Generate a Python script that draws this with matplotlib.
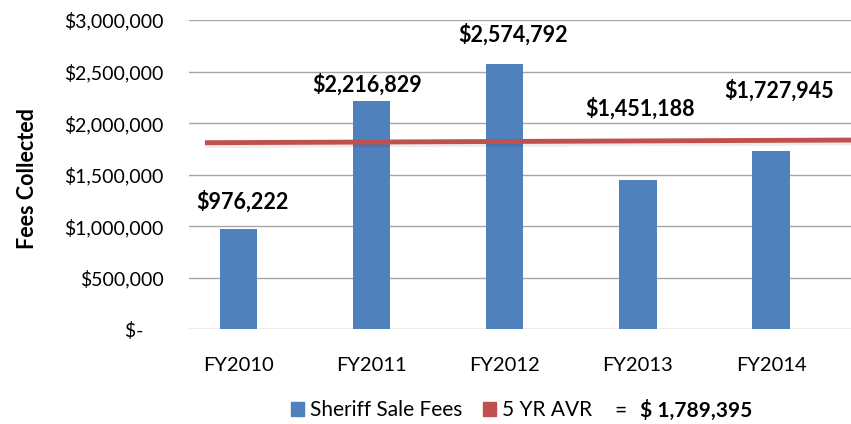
import matplotlib
matplotlib.use('Agg')
import matplotlib.pyplot as plt
import matplotlib.patheffects as pe
from matplotlib.patches import Patch
import numpy as np

years = ['FY2010', 'FY2011', 'FY2012', 'FY2013', 'FY2014']
fees = [976222, 2216829, 2574792, 1451188, 1727945]
avg_value = 1789395
avg_line_x = [-0.25, 4.65]
avg_line_y = [1810000, 1836000]

# where the data labels sit (hand-moved in the original)
label_x = [0.03, -0.03, 0.06, 0.02, 0.06]
label_y = [1235000, 2370000, 2855000, 2146000, 2311000]

blue = '#4F81BD'
red = '#C0504D'
font = 'Lato'

fig = plt.figure(figsize=(8.51, 4.24), dpi=100)
ax = fig.add_axes([0.222, 0.2233, 0.778, 0.7295])

x = np.arange(len(years))
ax.bar(x, fees, width=0.28, color=blue, zorder=2)

ax.plot(avg_line_x, avg_line_y, color=red, lw=3.5, zorder=3, solid_capstyle='butt',
        path_effects=[pe.SimpleLineShadow(offset=(0.5, -1.5), alpha=0.08, linewidth=4.5),
                      pe.Normal()])

for i, v in enumerate(fees):
    ax.text(x[i] + label_x[i], label_y[i], '${:,}'.format(v), ha='center', va='center',
            fontsize=15.5, fontweight='bold', family=font, color='#000000', zorder=4)

ax.set_xlim(-0.37, 4.6)
ax.set_ylim(0, 3000000)
ticks = np.arange(0, 3000001, 500000)
ax.set_yticks(ticks)
ax.set_yticklabels(['$-    '] + ['${:,}'.format(t) for t in ticks[1:]], family=font, fontsize=14)
ax.set_xticks(x)
ax.set_xticklabels(years, family=font, fontsize=14.5)
ax.tick_params(length=0, pad=18, axis='y')
ax.tick_params(length=0, pad=20, axis='x')
for s in ax.spines.values():
    s.set_visible(False)
ax.grid(axis='y', color='#A6A6A6', lw=1, zorder=0)
ax.set_axisbelow(True)

fig.text(0.032, 0.578, 'Fees Collected', rotation=90, ha='center', va='center',
         fontsize=15.5, fontweight='bold', family=font)

handles = [Patch(color=blue, label='Sheriff Sale Fees'), Patch(color=red, label='5 YR AVR')]
fig.legend(handles=handles, loc='center left', bbox_to_anchor=(0.342, 0.032), ncol=2,
           frameon=False, prop={'family': font, 'size': 15}, handlelength=0.6,
           handleheight=0.6, handletextpad=0.3, columnspacing=1.0, borderpad=0,
           borderaxespad=0)
fig.text(0.729, 0.032, '=', ha='center', va='center', fontsize=15, family=font)
fig.text(0.752, 0.032, '$ {:,}'.format(avg_value), ha='left', va='center', fontsize=15,
         fontweight='bold', family=font)

fig.savefig('out.png', dpi=100)
